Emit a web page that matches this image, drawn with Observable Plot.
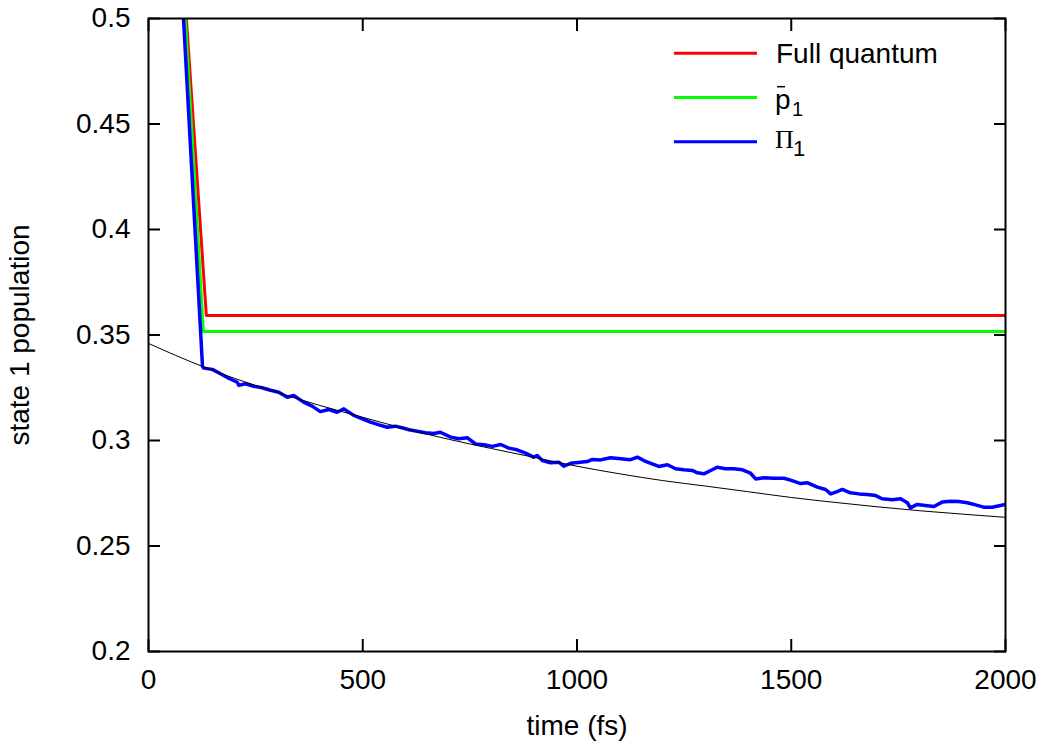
<!DOCTYPE html>
<html>
<head>
<meta charset="utf-8">
<script src="https://cdn.jsdelivr.net/npm/d3@7"></script>
<script src="https://cdn.jsdelivr.net/npm/@observablehq/plot@0.6"></script>
<style>
  body { margin: 0; background: #fff; }
  #wrap { position: relative; width: 1047px; height: 742px; background: #fff; }
  #legend { position: absolute; left: 0; top: 0; pointer-events: none; }
</style>
</head>
<body>
<div id="wrap"></div>
<script>
// ---- data ----
const xTicks = [0, 500, 1000, 1500, 2000];
const xTickLabels = ["0", "500", "1000", "1500", "2000"];
const yTicks = [0.2, 0.25, 0.3, 0.35, 0.4, 0.45, 0.5];
const yTickLabels = ["0.2", "0.25", "0.3", "0.35", "0.4", "0.45", "0.5"];

const seriesNames = ["Full quantum", "p̄1", "Π1"];
const seriesColors = ["#ff0000", "#00ff00", "#0000ff"];

// Full quantum
const redTime = [0, 135, 2000];
const redPop = [0.767, 0.3592, 0.3592];

// p-bar_1
const greenTime = [0, 128, 2000];
const greenPop = [0.804, 0.3517, 0.3517];

// Pi_1
const blueTime = [0,126,129,149,168,187,207,211,226,246,265,285,304,324,339,362,382,401,421,440,456,479,499,518,538,557,576,596,608,627,646,666,681,705,724,744,763,783,802,822,841,860,880,899,907,919,938,958,969,985,1008,1024,1036,1055,1078,1102,1125,1141,1156,1172,1191,1211,1230,1249,1269,1281,1296,1312,1327,1347,1366,1386,1405,1417,1436,1459,1483,1502,1522,1537,1561,1580,1592,1607,1619,1638,1658,1677,1697,1712,1736,1755,1771,1778,1794,1813,1833,1852,1872,1891,1911,1930,1949,1969,1988,2000];
const bluePop = [0.804,0.3351,0.3343,0.3337,0.3316,0.3295,0.3276,0.3261,0.3269,0.3257,0.3250,0.3238,0.3229,0.3205,0.3213,0.3182,0.3163,0.3137,0.3147,0.3134,0.3150,0.3119,0.3103,0.3087,0.3074,0.3063,0.3068,0.3058,0.3051,0.3044,0.3037,0.3033,0.3039,0.3016,0.3008,0.3013,0.2984,0.2980,0.2972,0.2981,0.2964,0.2956,0.2940,0.2921,0.2929,0.2905,0.2894,0.2897,0.2878,0.2892,0.2897,0.2900,0.2910,0.2908,0.2918,0.2913,0.2909,0.2921,0.2905,0.2892,0.2877,0.2885,0.2866,0.2861,0.2858,0.2847,0.2842,0.2858,0.2873,0.2866,0.2866,0.2861,0.2845,0.2818,0.2823,0.2821,0.2821,0.2810,0.2796,0.2800,0.2779,0.2768,0.2747,0.2758,0.2768,0.2752,0.2747,0.2744,0.2739,0.2724,0.2719,0.2724,0.2705,0.2681,0.2697,0.2692,0.2687,0.2708,0.2712,0.2711,0.2705,0.2695,0.2684,0.2684,0.2692,0.2697];

// thin black fitted curve
const fitTime = [0,100,200,300,400,500,600,700,800,900,1000,1100,1200,1300,1400,1500,1600,1700,1800,1900,2000];
const fitPop = [0.346,0.3372,0.3295,0.3228,0.3166,0.3110,0.3055,0.3006,0.2962,0.2920,0.2878,0.2842,0.2810,0.2784,0.2757,0.2730,0.2707,0.2686,0.2667,0.2651,0.2636];

// ---- build ----
const rows = (ts, vs) => ts.map((t, i) => ({t, v: vs[i]}));
const FONT = '"Liberation Sans", Arial, Helvetica, sans-serif';

const chart = Plot.plot({
  width: 1047,
  height: 742,
  marginLeft: 148,
  marginRight: 42,
  marginTop: 18,
  marginBottom: 91,
  style: {fontFamily: FONT, fontSize: "28px", color: "#000", background: "#fff"},
  x: {domain: [0, 2000]},
  y: {domain: [0.2, 0.5]},
  marks: [
    Plot.line(rows(redTime, redPop), {x: "t", y: "v", stroke: seriesColors[0], strokeWidth: 3, clip: true}),
    Plot.line(rows(greenTime, greenPop), {x: "t", y: "v", stroke: seriesColors[1], strokeWidth: 3, clip: true}),
    Plot.line(rows(blueTime, bluePop), {x: "t", y: "v", stroke: seriesColors[2], strokeWidth: 3.5, clip: true}),
    Plot.line(rows(fitTime, fitPop), {x: "t", y: "v", stroke: "#000", strokeWidth: 1, curve: "monotone-x", clip: true}),
    Plot.axisY(yTicks, {anchor: "left", tickSize: -12, tickPadding: 30, strokeWidth: 2,
      tickFormat: d => yTickLabels[yTicks.indexOf(d)],
      label: "state 1 population", labelAnchor: "center", labelOffset: 139, labelArrow: "none"}),
    Plot.axisY(yTicks, {anchor: "right", tickSize: -12, strokeWidth: 2, tickFormat: () => "", label: null}),
    Plot.axisX(xTicks, {anchor: "bottom", tickSize: -12, tickPadding: 30, strokeWidth: 2,
      tickFormat: d => xTickLabels[xTicks.indexOf(d)],
      label: "time (fs)", labelAnchor: "center", labelOffset: 83, labelArrow: "none"}),
    Plot.axisX(xTicks, {anchor: "top", tickSize: -12, strokeWidth: 2, tickFormat: () => "", label: null}),
    Plot.frame({stroke: "#000", strokeWidth: 2})
  ]
});

const wrap = document.getElementById("wrap");
wrap.appendChild(chart);

// ---- legend (inside the frame, top right) ----
const leg = d3.select(wrap).append("svg")
  .attr("id", "legend")
  .attr("width", 1047).attr("height", 742)
  .style("font-family", FONT);

const rowY = [53.3, 97.5, 141.7];
seriesColors.forEach((c, i) => {
  leg.append("line")
    .attr("x1", 674).attr("x2", 757)
    .attr("y1", rowY[i]).attr("y2", rowY[i])
    .attr("stroke", c).attr("stroke-width", 3);
});
// Full quantum
leg.append("text").attr("x", 776).attr("y", rowY[0] + 9.4)
  .attr("font-size", 28).text(seriesNames[0]);
// p-bar with subscript 1
leg.append("text").attr("x", 775).attr("y", rowY[1] + 11.7)
  .attr("font-size", 28).text(seriesNames[1].charAt(0));
leg.append("line").attr("x1", 777).attr("x2", 785)
  .attr("y1", rowY[1] - 10.8).attr("y2", rowY[1] - 10.8)
  .attr("stroke", "#000").attr("stroke-width", 1.5);
leg.append("text").attr("x", 792).attr("y", rowY[1] + 18.4)
  .attr("font-size", 20).text(seriesNames[1].slice(-1));
// Pi with subscript 1
leg.append("text").attr("x", 775).attr("y", rowY[2] + 6)
  .attr("font-size", 26).attr("font-family", '"Liberation Serif", "Times New Roman", serif')
  .text(seriesNames[2].charAt(0));
leg.append("text").attr("x", 793).attr("y", rowY[2] + 14)
  .attr("font-size", 22).text(seriesNames[2].slice(-1));
</script>
</body>
</html>
